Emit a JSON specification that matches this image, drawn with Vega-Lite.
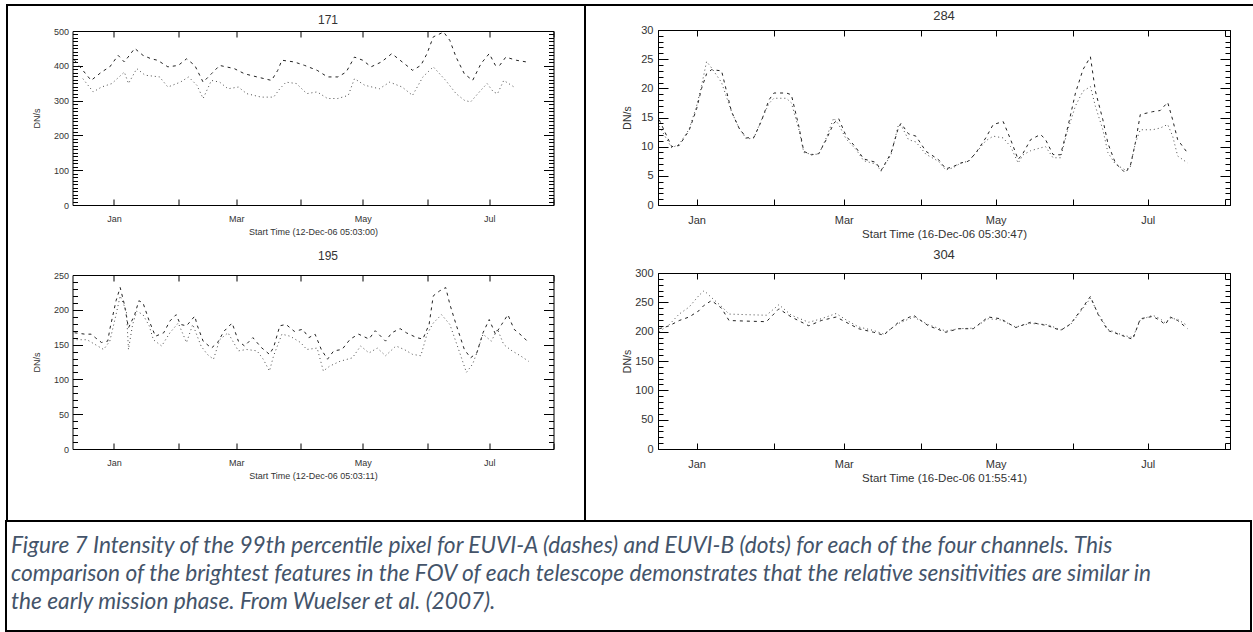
{
  "$schema": "https://vega.github.io/schema/vega-lite/v6.json",
  "padding": {"left": 5, "top": 4, "right": 0, "bottom": 0},
  "spacing": 0,
  "background": "white",
  "config": {
    "view": {"stroke": "#000", "strokeWidth": 1},
    "axis": {"grid": false, "domain": false, "tickColor": "#000", "tickWidth": 1, "labelColor": "#333", "titleColor": "#333", "labelFont": "Liberation Sans", "titleFont": "Liberation Sans", "titleFontWeight": "normal", "labelOverlap": false, "labelFlush": false},
    "title": {"font": "Liberation Sans", "fontWeight": "normal", "color": "#333", "anchor": "middle", "frame": "group"},
    "line": {"strokeWidth": 1}
  },
  "datasets": {
    "d171": [
      {"s":"A","date":"2006-12-13","v":416},{"s":"A","date":"2006-12-17","v":387},{"s":"A","date":"2006-12-21","v":358},{"s":"A","date":"2006-12-26","v":382},{"s":"A","date":"2006-12-30","v":397},{"s":"A","date":"2007-01-03","v":430},{"s":"A","date":"2007-01-06","v":411},{"s":"A","date":"2007-01-11","v":450},{"s":"A","date":"2007-01-15","v":430},{"s":"A","date":"2007-01-19","v":420},{"s":"A","date":"2007-01-22","v":416},{"s":"A","date":"2007-01-27","v":397},{"s":"A","date":"2007-02-01","v":401},{"s":"A","date":"2007-02-05","v":420},{"s":"A","date":"2007-02-09","v":401},{"s":"A","date":"2007-02-13","v":353},{"s":"A","date":"2007-02-17","v":377},{"s":"A","date":"2007-02-21","v":401},{"s":"A","date":"2007-02-28","v":392},{"s":"A","date":"2007-03-05","v":377},{"s":"A","date":"2007-03-11","v":368},{"s":"A","date":"2007-03-18","v":358},{"s":"A","date":"2007-03-21","v":387},{"s":"A","date":"2007-03-23","v":416},{"s":"A","date":"2007-03-29","v":411},{"s":"A","date":"2007-04-03","v":401},{"s":"A","date":"2007-04-09","v":387},{"s":"A","date":"2007-04-14","v":368},{"s":"A","date":"2007-04-19","v":368},{"s":"A","date":"2007-04-23","v":382},{"s":"A","date":"2007-04-27","v":425},{"s":"A","date":"2007-05-01","v":416},{"s":"A","date":"2007-05-05","v":397},{"s":"A","date":"2007-05-10","v":411},{"s":"A","date":"2007-05-15","v":435},{"s":"A","date":"2007-05-19","v":416},{"s":"A","date":"2007-05-23","v":397},{"s":"A","date":"2007-05-25","v":387},{"s":"A","date":"2007-05-29","v":401},{"s":"A","date":"2007-06-01","v":435},{"s":"A","date":"2007-06-04","v":483},{"s":"A","date":"2007-06-09","v":497},{"s":"A","date":"2007-06-12","v":473},{"s":"A","date":"2007-06-15","v":425},{"s":"A","date":"2007-06-19","v":377},{"s":"A","date":"2007-06-23","v":358},{"s":"A","date":"2007-06-27","v":406},{"s":"A","date":"2007-07-01","v":435},{"s":"A","date":"2007-07-04","v":401},{"s":"A","date":"2007-07-06","v":401},{"s":"A","date":"2007-07-09","v":425},{"s":"A","date":"2007-07-14","v":416},{"s":"A","date":"2007-07-19","v":411},
      {"s":"B","date":"2006-12-17","v":363},{"s":"B","date":"2006-12-22","v":325},{"s":"B","date":"2006-12-26","v":339},{"s":"B","date":"2006-12-31","v":349},{"s":"B","date":"2007-01-06","v":382},{"s":"B","date":"2007-01-08","v":349},{"s":"B","date":"2007-01-12","v":392},{"s":"B","date":"2007-01-16","v":373},{"s":"B","date":"2007-01-23","v":368},{"s":"B","date":"2007-01-27","v":339},{"s":"B","date":"2007-02-02","v":353},{"s":"B","date":"2007-02-06","v":368},{"s":"B","date":"2007-02-10","v":344},{"s":"B","date":"2007-02-13","v":306},{"s":"B","date":"2007-02-17","v":358},{"s":"B","date":"2007-02-21","v":353},{"s":"B","date":"2007-02-25","v":334},{"s":"B","date":"2007-03-02","v":339},{"s":"B","date":"2007-03-06","v":320},{"s":"B","date":"2007-03-13","v":310},{"s":"B","date":"2007-03-19","v":310},{"s":"B","date":"2007-03-22","v":334},{"s":"B","date":"2007-03-25","v":353},{"s":"B","date":"2007-03-30","v":349},{"s":"B","date":"2007-04-04","v":320},{"s":"B","date":"2007-04-09","v":325},{"s":"B","date":"2007-04-14","v":306},{"s":"B","date":"2007-04-19","v":306},{"s":"B","date":"2007-04-24","v":315},{"s":"B","date":"2007-04-27","v":363},{"s":"B","date":"2007-05-02","v":344},{"s":"B","date":"2007-05-09","v":334},{"s":"B","date":"2007-05-14","v":353},{"s":"B","date":"2007-05-20","v":339},{"s":"B","date":"2007-05-25","v":315},{"s":"B","date":"2007-05-30","v":368},{"s":"B","date":"2007-06-04","v":397},{"s":"B","date":"2007-06-10","v":358},{"s":"B","date":"2007-06-15","v":320},{"s":"B","date":"2007-06-19","v":301},{"s":"B","date":"2007-06-22","v":296},{"s":"B","date":"2007-06-27","v":330},{"s":"B","date":"2007-06-30","v":349},{"s":"B","date":"2007-07-03","v":325},{"s":"B","date":"2007-07-05","v":320},{"s":"B","date":"2007-07-08","v":358},{"s":"B","date":"2007-07-13","v":339}
    ],
    "d195": [
      {"s":"A","date":"2006-12-13","v":167},{"s":"A","date":"2006-12-18","v":165},{"s":"A","date":"2006-12-21","v":165},{"s":"A","date":"2006-12-23","v":160},{"s":"A","date":"2006-12-26","v":153},{"s":"A","date":"2006-12-29","v":155},{"s":"A","date":"2006-12-30","v":172},{"s":"A","date":"2007-01-02","v":213},{"s":"A","date":"2007-01-04","v":232},{"s":"A","date":"2007-01-06","v":208},{"s":"A","date":"2007-01-08","v":174},{"s":"A","date":"2007-01-11","v":193},{"s":"A","date":"2007-01-13","v":213},{"s":"A","date":"2007-01-15","v":210},{"s":"A","date":"2007-01-18","v":184},{"s":"A","date":"2007-01-21","v":162},{"s":"A","date":"2007-01-25","v":167},{"s":"A","date":"2007-01-28","v":184},{"s":"A","date":"2007-01-31","v":193},{"s":"A","date":"2007-02-02","v":179},{"s":"A","date":"2007-02-05","v":177},{"s":"A","date":"2007-02-09","v":191},{"s":"A","date":"2007-02-10","v":179},{"s":"A","date":"2007-02-13","v":155},{"s":"A","date":"2007-02-17","v":145},{"s":"A","date":"2007-02-20","v":153},{"s":"A","date":"2007-02-23","v":169},{"s":"A","date":"2007-02-27","v":181},{"s":"A","date":"2007-03-02","v":155},{"s":"A","date":"2007-03-05","v":148},{"s":"A","date":"2007-03-09","v":160},{"s":"A","date":"2007-03-13","v":146},{"s":"A","date":"2007-03-17","v":136},{"s":"A","date":"2007-03-19","v":146},{"s":"A","date":"2007-03-22","v":177},{"s":"A","date":"2007-03-25","v":179},{"s":"A","date":"2007-03-29","v":169},{"s":"A","date":"2007-04-02","v":172},{"s":"A","date":"2007-04-05","v":160},{"s":"A","date":"2007-04-08","v":165},{"s":"A","date":"2007-04-11","v":143},{"s":"A","date":"2007-04-14","v":129},{"s":"A","date":"2007-04-17","v":141},{"s":"A","date":"2007-04-21","v":143},{"s":"A","date":"2007-04-25","v":158},{"s":"A","date":"2007-04-29","v":165},{"s":"A","date":"2007-05-04","v":158},{"s":"A","date":"2007-05-07","v":170},{"s":"A","date":"2007-05-12","v":155},{"s":"A","date":"2007-05-15","v":167},{"s":"A","date":"2007-05-19","v":173},{"s":"A","date":"2007-05-22","v":167},{"s":"A","date":"2007-05-27","v":160},{"s":"A","date":"2007-05-30","v":158},{"s":"A","date":"2007-06-02","v":179},{"s":"A","date":"2007-06-04","v":220},{"s":"A","date":"2007-06-07","v":227},{"s":"A","date":"2007-06-10","v":232},{"s":"A","date":"2007-06-12","v":208},{"s":"A","date":"2007-06-15","v":179},{"s":"A","date":"2007-06-19","v":143},{"s":"A","date":"2007-06-22","v":131},{"s":"A","date":"2007-06-25","v":138},{"s":"A","date":"2007-06-28","v":167},{"s":"A","date":"2007-07-01","v":186},{"s":"A","date":"2007-07-04","v":165},{"s":"A","date":"2007-07-07","v":179},{"s":"A","date":"2007-07-10","v":193},{"s":"A","date":"2007-07-13","v":172},{"s":"A","date":"2007-07-17","v":162},{"s":"A","date":"2007-07-20","v":153},
      {"s":"B","date":"2006-12-14","v":157},{"s":"B","date":"2006-12-19","v":157},{"s":"B","date":"2006-12-23","v":150},{"s":"B","date":"2006-12-27","v":143},{"s":"B","date":"2006-12-30","v":155},{"s":"B","date":"2007-01-02","v":193},{"s":"B","date":"2007-01-04","v":220},{"s":"B","date":"2007-01-07","v":198},{"s":"B","date":"2007-01-08","v":143},{"s":"B","date":"2007-01-10","v":179},{"s":"B","date":"2007-01-12","v":198},{"s":"B","date":"2007-01-15","v":193},{"s":"B","date":"2007-01-18","v":177},{"s":"B","date":"2007-01-20","v":157},{"s":"B","date":"2007-01-24","v":148},{"s":"B","date":"2007-01-28","v":167},{"s":"B","date":"2007-02-01","v":181},{"s":"B","date":"2007-02-05","v":153},{"s":"B","date":"2007-02-08","v":179},{"s":"B","date":"2007-02-12","v":148},{"s":"B","date":"2007-02-15","v":136},{"s":"B","date":"2007-02-18","v":129},{"s":"B","date":"2007-02-21","v":157},{"s":"B","date":"2007-02-25","v":167},{"s":"B","date":"2007-03-02","v":141},{"s":"B","date":"2007-03-06","v":143},{"s":"B","date":"2007-03-11","v":141},{"s":"B","date":"2007-03-14","v":129},{"s":"B","date":"2007-03-17","v":112},{"s":"B","date":"2007-03-19","v":134},{"s":"B","date":"2007-03-23","v":165},{"s":"B","date":"2007-03-27","v":162},{"s":"B","date":"2007-04-01","v":153},{"s":"B","date":"2007-04-04","v":143},{"s":"B","date":"2007-04-09","v":145},{"s":"B","date":"2007-04-12","v":112},{"s":"B","date":"2007-04-15","v":119},{"s":"B","date":"2007-04-20","v":126},{"s":"B","date":"2007-04-26","v":131},{"s":"B","date":"2007-04-30","v":148},{"s":"B","date":"2007-05-04","v":138},{"s":"B","date":"2007-05-08","v":145},{"s":"B","date":"2007-05-12","v":134},{"s":"B","date":"2007-05-17","v":148},{"s":"B","date":"2007-05-21","v":143},{"s":"B","date":"2007-05-25","v":136},{"s":"B","date":"2007-05-29","v":134},{"s":"B","date":"2007-06-01","v":165},{"s":"B","date":"2007-06-04","v":181},{"s":"B","date":"2007-06-08","v":193},{"s":"B","date":"2007-06-12","v":179},{"s":"B","date":"2007-06-16","v":145},{"s":"B","date":"2007-06-20","v":110},{"s":"B","date":"2007-06-23","v":122},{"s":"B","date":"2007-06-25","v":138},{"s":"B","date":"2007-06-28","v":165},{"s":"B","date":"2007-07-02","v":155},{"s":"B","date":"2007-07-05","v":172},{"s":"B","date":"2007-07-08","v":150},{"s":"B","date":"2007-07-12","v":141},{"s":"B","date":"2007-07-16","v":134},{"s":"B","date":"2007-07-20","v":126}
    ],
    "d284": [
      {"date":"2006-12-17","A":14.6,"B":13.5},{"date":"2006-12-22","A":10,"B":9.8},{"date":"2006-12-25","A":10.2,"B":10.4},{"date":"2006-12-29","A":12.8,"B":13},{"date":"2007-01-01","A":16.5,"B":17},{"date":"2007-01-03","A":20,"B":20.5},{"date":"2007-01-05","A":22.5,"B":24.6},{"date":"2007-01-07","A":23.2,"B":23.5},{"date":"2007-01-11","A":23,"B":21},{"date":"2007-01-15","A":16,"B":16},{"date":"2007-01-18","A":13.2,"B":13.2},{"date":"2007-01-21","A":11.5,"B":11.3},{"date":"2007-01-24","A":11.6,"B":11.5},{"date":"2007-01-27","A":14.4,"B":14.6},{"date":"2007-01-30","A":18,"B":17.4},{"date":"2007-02-01","A":19.2,"B":18.3},{"date":"2007-02-06","A":19.2,"B":18.3},{"date":"2007-02-08","A":18.9,"B":17.5},{"date":"2007-02-11","A":13.5,"B":13},{"date":"2007-02-13","A":9.2,"B":9},{"date":"2007-02-16","A":8.6,"B":8.7},{"date":"2007-02-19","A":8.8,"B":8.7},{"date":"2007-02-22","A":11.2,"B":11.5},{"date":"2007-02-25","A":14,"B":14.9},{"date":"2007-02-27","A":14.8,"B":13.8},{"date":"2007-03-02","A":11.8,"B":11.3},{"date":"2007-03-06","A":9.8,"B":9.5},{"date":"2007-03-09","A":7.9,"B":7.6},{"date":"2007-03-14","A":7.3,"B":7},{"date":"2007-03-16","A":5.9,"B":5.8},{"date":"2007-03-20","A":8.9,"B":8.6},{"date":"2007-03-23","A":13.3,"B":13.8},{"date":"2007-03-24","A":14,"B":13.7},{"date":"2007-03-27","A":12.2,"B":11.2},{"date":"2007-03-30","A":11.8,"B":10.8},{"date":"2007-04-03","A":9.2,"B":8.7},{"date":"2007-04-08","A":7.8,"B":7.5},{"date":"2007-04-11","A":6.2,"B":6},{"date":"2007-04-14","A":6.6,"B":6.4},{"date":"2007-04-17","A":7.2,"B":7.2},{"date":"2007-04-20","A":7.5,"B":7.5},{"date":"2007-04-23","A":8.9,"B":8.9},{"date":"2007-04-27","A":11.5,"B":11},{"date":"2007-04-30","A":13.8,"B":11.8},{"date":"2007-05-04","A":14.3,"B":11.5},{"date":"2007-05-07","A":11.2,"B":10},{"date":"2007-05-10","A":7.8,"B":7.2},{"date":"2007-05-12","A":8.9,"B":8.6},{"date":"2007-05-15","A":11.2,"B":9.3},{"date":"2007-05-19","A":12.1,"B":9.8},{"date":"2007-05-21","A":11.2,"B":10},{"date":"2007-05-24","A":8.65,"B":8.1},{"date":"2007-05-27","A":8.6,"B":8.1},{"date":"2007-05-30","A":13.5,"B":13},{"date":"2007-06-02","A":19.2,"B":17},{"date":"2007-06-05","A":23.2,"B":19.5},{"date":"2007-06-08","A":25.4,"B":20.3},{"date":"2007-06-10","A":19.5,"B":16.9},{"date":"2007-06-13","A":14.6,"B":12.9},{"date":"2007-06-15","A":10.6,"B":9},{"date":"2007-06-18","A":7.2,"B":7},{"date":"2007-06-22","A":5.5,"B":6},{"date":"2007-06-24","A":6.7,"B":6.5},{"date":"2007-06-26","A":10.6,"B":10.6},{"date":"2007-06-28","A":15.5,"B":12.9},{"date":"2007-07-03","A":16,"B":12.9},{"date":"2007-07-06","A":16.2,"B":13.2},{"date":"2007-07-09","A":17.6,"B":13.8},{"date":"2007-07-11","A":14.6,"B":11.8},{"date":"2007-07-13","A":11.2,"B":8.4},{"date":"2007-07-17","A":8.9,"B":7.2}
    ],
    "d304": [
      {"date":"2006-12-17","A":205,"B":200},{"date":"2006-12-21","A":210,"B":212},{"date":"2006-12-25","A":219,"B":230},{"date":"2006-12-29","A":225,"B":242},{"date":"2007-01-02","A":236,"B":262},{"date":"2007-01-04","A":245,"B":270},{"date":"2007-01-07","A":253,"B":258},{"date":"2007-01-11","A":240,"B":243},{"date":"2007-01-14","A":219,"B":230},{"date":"2007-01-21","A":218,"B":229},{"date":"2007-01-29","A":217,"B":228},{"date":"2007-02-03","A":239,"B":246},{"date":"2007-02-08","A":225,"B":228},{"date":"2007-02-15","A":210,"B":216},{"date":"2007-02-20","A":219,"B":222},{"date":"2007-02-26","A":225,"B":231},{"date":"2007-03-02","A":216,"B":220},{"date":"2007-03-07","A":205,"B":208},{"date":"2007-03-13","A":199,"B":202},{"date":"2007-03-17","A":194,"B":196},{"date":"2007-03-23","A":216,"B":214},{"date":"2007-03-29","A":228,"B":225},{"date":"2007-04-04","A":210,"B":212},{"date":"2007-04-11","A":199,"B":201},{"date":"2007-04-16","A":205,"B":205},{"date":"2007-04-22","A":205,"B":206},{"date":"2007-04-28","A":225,"B":222},{"date":"2007-05-03","A":222,"B":220},{"date":"2007-05-09","A":207,"B":208},{"date":"2007-05-15","A":216,"B":214},{"date":"2007-05-22","A":210,"B":212},{"date":"2007-05-27","A":202,"B":203},{"date":"2007-05-31","A":213,"B":212},{"date":"2007-06-04","A":236,"B":234},{"date":"2007-06-08","A":260,"B":257},{"date":"2007-06-11","A":230,"B":232},{"date":"2007-06-15","A":202,"B":204},{"date":"2007-06-21","A":193,"B":194},{"date":"2007-06-25","A":187,"B":190},{"date":"2007-06-28","A":222,"B":220},{"date":"2007-07-03","A":226,"B":228},{"date":"2007-07-06","A":219,"B":222},{"date":"2007-07-08","A":212,"B":215},{"date":"2007-07-10","A":225,"B":223},{"date":"2007-07-13","A":219,"B":221},{"date":"2007-07-17","A":205,"B":210}
    ],
    "caption": [
      {"line": 1, "pos": 0, "text": "Figure 7 Intensity of the 99th percentile pixel for EUVI-A (dashes) and EUVI-B (dots) for each of the four channels. This"},
      {"line": 2, "pos": 0, "text": "comparison of the brightest features in the FOV of each telescope demonstrates that the relative sensitivities are similar in"},
      {"line": 3, "pos": 0, "text": "the early mission phase. From Wuelser et al. (2007)."}
    ]
  },
  "vconcat": [
    {"width": 1248, "height": 2, "data": {"values": [{}]}, "mark": {"type": "rect", "opacity": 0}, "encoding": {}, "view": {"fill": "#000", "stroke": null}},
    {
      "align": "none",
      "spacing": 29,
      "concat": [
        {
          "align": "none",
          "spacing": 23.5,
          "concat": [
            {"width": 2, "height": 514, "data": {"values": [{}]}, "mark": {"type": "rect", "opacity": 0}, "encoding": {}, "view": {"fill": "#000", "stroke": null}},
            {
              "spacing": 6,
              "vconcat": [
                {"width": 1, "height": 1, "data": {"values": [{}]}, "mark": {"type": "rect", "opacity": 0}, "encoding": {}, "view": {"stroke": null}},
                {
                  "spacing": 12,
                  "vconcat": [
                    {
                      "width": 481, "height": 174,
                      "title": {"text": "171", "offset": 0, "fontSize": 12, "dx": 15},
                      "data": {"name": "d171"},
                      "layer": [
                        {"mark": {"type": "line"},
                         "encoding": {
                           "x": {"field": "date", "type": "temporal", "scale": {"type": "utc", "domain": [{"year": 2006, "month": 12, "date": 12, "utc": true}, {"year": 2007, "month": 8, "date": 1, "utc": true}], "nice": false},
                                 "axis": {"orient": "bottom", "title": "Start Time (12-Dec-06 05:03:00)", "tickCount": {"interval": "month", "step": 1}, "tickSize": -6, "labelPadding": 15, "labelExpr": "utcmonth(datum.value) % 2 == 0 ? utcFormat(datum.value, '%b') : ''", "labelFontSize": 9, "titleFontSize": 9, "titlePadding": 4}},
                           "y": {"field": "v", "type": "quantitative", "scale": {"domain": [0, 500], "nice": false},
                                 "axis": {"orient": "left", "title": "DN/s", "values": [0, 100, 200, 300, 400, 500], "tickSize": -10, "labelPadding": 14, "labelFontSize": 9, "titleFontSize": 9, "titlePadding": 7, "minExtent": 24, "maxExtent": 24}},
                           "strokeDash": {"field": "s", "type": "nominal", "scale": {"domain": ["A", "B"], "range": [[3, 4], [1, 3]]}, "legend": null},
                           "color": {"field": "s", "type": "nominal", "scale": {"domain": ["A", "B"], "range": ["#222222", "#4a4a4a"]}, "legend": null}
                         }},
                        {"mark": {"type": "line", "opacity": 0},
                         "encoding": {
                           "x": {"field": "date", "type": "temporal", "scale": {"type": "utc", "domain": [{"year": 2006, "month": 12, "date": 12, "utc": true}, {"year": 2007, "month": 8, "date": 1, "utc": true}], "nice": false},
                                 "axis": {"orient": "top", "title": null, "labels": false, "tickCount": {"interval": "month", "step": 1}, "tickSize": -6, "minExtent": 0, "maxExtent": 0}},
                           "y": {"field": "v", "type": "quantitative", "scale": {"domain": [0, 500], "nice": false},
                                 "axis": {"orient": "right", "title": null, "labels": false, "values": [0, 100, 200, 300, 400, 500], "tickSize": -10, "minExtent": 0, "maxExtent": 0}}
                         }},
                        {"mark": {"type": "line", "opacity": 0},
                         "encoding": {
                           "x": {"field": "date", "type": "temporal", "scale": {"type": "utc", "domain": [{"year": 2006, "month": 12, "date": 12, "utc": true}, {"year": 2007, "month": 8, "date": 1, "utc": true}], "nice": false}, "axis": null},
                           "y": {"field": "v", "type": "quantitative", "scale": {"domain": [0, 500], "nice": false},
                                 "axis": {"orient": "left", "title": null, "labels": false, "tickCount": 50, "tickSize": -5, "minExtent": 0, "maxExtent": 0}}
                         }},
                        {"mark": {"type": "line", "opacity": 0},
                         "encoding": {
                           "x": {"field": "date", "type": "temporal", "scale": {"type": "utc", "domain": [{"year": 2006, "month": 12, "date": 12, "utc": true}, {"year": 2007, "month": 8, "date": 1, "utc": true}], "nice": false}, "axis": null},
                           "y": {"field": "v", "type": "quantitative", "scale": {"domain": [0, 500], "nice": false},
                                 "axis": {"orient": "right", "title": null, "labels": false, "tickCount": 50, "tickSize": -5, "minExtent": 0, "maxExtent": 0}}
                         }}
                      ],
                      "resolve": {"axis": {"x": "independent", "y": "independent"}}
                    },
                    {
                      "width": 481, "height": 174,
                      "title": {"text": "195", "offset": 8, "fontSize": 12, "dx": 15},
                      "data": {"name": "d195"},
                      "layer": [
                        {"mark": {"type": "line"},
                         "encoding": {
                           "x": {"field": "date", "type": "temporal", "scale": {"type": "utc", "domain": [{"year": 2006, "month": 12, "date": 12, "utc": true}, {"year": 2007, "month": 8, "date": 1, "utc": true}], "nice": false},
                                 "axis": {"orient": "bottom", "title": "Start Time (12-Dec-06 05:03:11)", "tickCount": {"interval": "month", "step": 1}, "tickSize": -6, "labelPadding": 15, "labelExpr": "utcmonth(datum.value) % 2 == 0 ? utcFormat(datum.value, '%b') : ''", "labelFontSize": 9, "titleFontSize": 9, "titlePadding": 4}},
                           "y": {"field": "v", "type": "quantitative", "scale": {"domain": [0, 250], "nice": false},
                                 "axis": {"orient": "left", "title": "DN/s", "values": [0, 50, 100, 150, 200, 250], "tickSize": -10, "labelPadding": 14, "labelFontSize": 9, "titleFontSize": 9, "titlePadding": 7, "minExtent": 24, "maxExtent": 24}},
                           "strokeDash": {"field": "s", "type": "nominal", "scale": {"domain": ["A", "B"], "range": [[3, 4], [1, 3]]}, "legend": null},
                           "color": {"field": "s", "type": "nominal", "scale": {"domain": ["A", "B"], "range": ["#222222", "#4a4a4a"]}, "legend": null}
                         }},
                        {"mark": {"type": "line", "opacity": 0},
                         "encoding": {
                           "x": {"field": "date", "type": "temporal", "scale": {"type": "utc", "domain": [{"year": 2006, "month": 12, "date": 12, "utc": true}, {"year": 2007, "month": 8, "date": 1, "utc": true}], "nice": false},
                                 "axis": {"orient": "top", "title": null, "labels": false, "tickCount": {"interval": "month", "step": 1}, "tickSize": -6, "minExtent": 0, "maxExtent": 0}},
                           "y": {"field": "v", "type": "quantitative", "scale": {"domain": [0, 250], "nice": false},
                                 "axis": {"orient": "right", "title": null, "labels": false, "values": [0, 50, 100, 150, 200, 250], "tickSize": -10, "minExtent": 0, "maxExtent": 0}}
                         }},
                        {"mark": {"type": "line", "opacity": 0},
                         "encoding": {
                           "x": {"field": "date", "type": "temporal", "scale": {"type": "utc", "domain": [{"year": 2006, "month": 12, "date": 12, "utc": true}, {"year": 2007, "month": 8, "date": 1, "utc": true}], "nice": false}, "axis": null},
                           "y": {"field": "v", "type": "quantitative", "scale": {"domain": [0, 250], "nice": false},
                                 "axis": {"orient": "left", "title": null, "labels": false, "tickCount": 25, "tickSize": -5, "minExtent": 0, "maxExtent": 0}}
                         }},
                        {"mark": {"type": "line", "opacity": 0},
                         "encoding": {
                           "x": {"field": "date", "type": "temporal", "scale": {"type": "utc", "domain": [{"year": 2006, "month": 12, "date": 12, "utc": true}, {"year": 2007, "month": 8, "date": 1, "utc": true}], "nice": false}, "axis": null},
                           "y": {"field": "v", "type": "quantitative", "scale": {"domain": [0, 250], "nice": false},
                                 "axis": {"orient": "right", "title": null, "labels": false, "tickCount": 25, "tickSize": -5, "minExtent": 0, "maxExtent": 0}}
                         }}
                      ],
                      "resolve": {"axis": {"x": "independent", "y": "independent"}}
                    }
                  ]
                }
              ]
            }
          ]
        },
        {
          "align": "none",
          "spacing": 35,
          "concat": [
            {"width": 2, "height": 514, "data": {"values": [{}]}, "mark": {"type": "rect", "opacity": 0}, "encoding": {}, "view": {"fill": "#000", "stroke": null}},
            {
              "spacing": 2,
              "vconcat": [
                {"width": 1, "height": 1, "data": {"values": [{}]}, "mark": {"type": "rect", "opacity": 0}, "encoding": {}, "view": {"stroke": null}},
                {
                  "spacing": 8,
                  "vconcat": [
                    {
                      "width": 572, "height": 175,
                      "title": {"text": "284", "offset": 1, "fontSize": 13},
                      "data": {"name": "d284"},
                      "transform": [{"fold": ["A", "B"], "as": ["s", "v"]}],
                      "layer": [
                        {"mark": {"type": "line"},
                         "encoding": {
                           "x": {"field": "date", "type": "temporal", "scale": {"type": "utc", "domain": [{"year": 2006, "month": 12, "date": 16, "hours": 12, "utc": true}, {"year": 2007, "month": 8, "date": 3, "utc": true}], "nice": false},
                                 "axis": {"orient": "bottom", "title": "Start Time (16-Dec-06 05:30:47)", "tickCount": {"interval": "month", "step": 1}, "tickSize": -6, "labelPadding": 15, "labelExpr": "utcmonth(datum.value) % 2 == 0 ? utcFormat(datum.value, '%b') : ''", "labelFontSize": 11, "titleFontSize": 11.5, "titlePadding": 3}},
                           "y": {"field": "v", "type": "quantitative", "scale": {"domain": [0, 30], "nice": false},
                                 "axis": {"orient": "left", "title": "DN/s", "values": [0, 5, 10, 15, 20, 25, 30], "tickSize": -10, "labelPadding": 15, "labelFontSize": 11, "titleFontSize": 10.5, "titlePadding": 6, "minExtent": 20, "maxExtent": 20}},
                           "strokeDash": {"field": "s", "type": "nominal", "scale": {"domain": ["A", "B"], "range": [[6, 5], [1, 3]]}, "legend": null},
                           "color": {"field": "s", "type": "nominal", "scale": {"domain": ["A", "B"], "range": ["#222222", "#4a4a4a"]}, "legend": null}
                         }},
                        {"mark": {"type": "line", "opacity": 0},
                         "encoding": {
                           "x": {"field": "date", "type": "temporal", "scale": {"type": "utc", "domain": [{"year": 2006, "month": 12, "date": 16, "hours": 12, "utc": true}, {"year": 2007, "month": 8, "date": 3, "utc": true}], "nice": false},
                                 "axis": {"orient": "top", "title": null, "labels": false, "tickCount": {"interval": "month", "step": 1}, "tickSize": -6, "minExtent": 0, "maxExtent": 0}},
                           "y": {"field": "v", "type": "quantitative", "scale": {"domain": [0, 30], "nice": false},
                                 "axis": {"orient": "right", "title": null, "labels": false, "values": [0, 5, 10, 15, 20, 25, 30], "tickSize": -10, "minExtent": 0, "maxExtent": 0}}
                         }},
                        {"mark": {"type": "line", "opacity": 0},
                         "encoding": {
                           "x": {"field": "date", "type": "temporal", "scale": {"type": "utc", "domain": [{"year": 2006, "month": 12, "date": 16, "hours": 12, "utc": true}, {"year": 2007, "month": 8, "date": 3, "utc": true}], "nice": false}, "axis": null},
                           "y": {"field": "v", "type": "quantitative", "scale": {"domain": [0, 30], "nice": false},
                                 "axis": {"orient": "left", "title": null, "labels": false, "tickCount": 30, "tickSize": -5, "minExtent": 0, "maxExtent": 0}}
                         }},
                        {"mark": {"type": "line", "opacity": 0},
                         "encoding": {
                           "x": {"field": "date", "type": "temporal", "scale": {"type": "utc", "domain": [{"year": 2006, "month": 12, "date": 16, "hours": 12, "utc": true}, {"year": 2007, "month": 8, "date": 3, "utc": true}], "nice": false}, "axis": null},
                           "y": {"field": "v", "type": "quantitative", "scale": {"domain": [0, 30], "nice": false},
                                 "axis": {"orient": "right", "title": null, "labels": false, "tickCount": 30, "tickSize": -5, "minExtent": 0, "maxExtent": 0}}
                         }}
                      ],
                      "resolve": {"axis": {"x": "independent", "y": "independent"}}
                    },
                    {
                      "width": 572, "height": 176,
                      "title": {"text": "304", "offset": 5, "fontSize": 13},
                      "data": {"name": "d304"},
                      "transform": [{"fold": ["A", "B"], "as": ["s", "v"]}],
                      "layer": [
                        {"mark": {"type": "line"},
                         "encoding": {
                           "x": {"field": "date", "type": "temporal", "scale": {"type": "utc", "domain": [{"year": 2006, "month": 12, "date": 16, "hours": 12, "utc": true}, {"year": 2007, "month": 8, "date": 3, "utc": true}], "nice": false},
                                 "axis": {"orient": "bottom", "title": "Start Time (16-Dec-06 01:55:41)", "tickCount": {"interval": "month", "step": 1}, "tickSize": -6, "labelPadding": 15, "labelExpr": "utcmonth(datum.value) % 2 == 0 ? utcFormat(datum.value, '%b') : ''", "labelFontSize": 11, "titleFontSize": 11.5, "titlePadding": 3}},
                           "y": {"field": "v", "type": "quantitative", "scale": {"domain": [0, 300], "nice": false},
                                 "axis": {"orient": "left", "title": "DN/s", "values": [0, 50, 100, 150, 200, 250, 300], "tickSize": -10, "labelPadding": 15, "labelFontSize": 11, "titleFontSize": 10.5, "titlePadding": 6, "minExtent": 20, "maxExtent": 20}},
                           "strokeDash": {"field": "s", "type": "nominal", "scale": {"domain": ["A", "B"], "range": [[6, 5], [1, 3]]}, "legend": null},
                           "color": {"field": "s", "type": "nominal", "scale": {"domain": ["A", "B"], "range": ["#222222", "#4a4a4a"]}, "legend": null}
                         }},
                        {"mark": {"type": "line", "opacity": 0},
                         "encoding": {
                           "x": {"field": "date", "type": "temporal", "scale": {"type": "utc", "domain": [{"year": 2006, "month": 12, "date": 16, "hours": 12, "utc": true}, {"year": 2007, "month": 8, "date": 3, "utc": true}], "nice": false},
                                 "axis": {"orient": "top", "title": null, "labels": false, "tickCount": {"interval": "month", "step": 1}, "tickSize": -6, "minExtent": 0, "maxExtent": 0}},
                           "y": {"field": "v", "type": "quantitative", "scale": {"domain": [0, 300], "nice": false},
                                 "axis": {"orient": "right", "title": null, "labels": false, "values": [0, 50, 100, 150, 200, 250, 300], "tickSize": -10, "minExtent": 0, "maxExtent": 0}}
                         }},
                        {"mark": {"type": "line", "opacity": 0},
                         "encoding": {
                           "x": {"field": "date", "type": "temporal", "scale": {"type": "utc", "domain": [{"year": 2006, "month": 12, "date": 16, "hours": 12, "utc": true}, {"year": 2007, "month": 8, "date": 3, "utc": true}], "nice": false}, "axis": null},
                           "y": {"field": "v", "type": "quantitative", "scale": {"domain": [0, 300], "nice": false},
                                 "axis": {"orient": "left", "title": null, "labels": false, "tickCount": 30, "tickSize": -5, "minExtent": 0, "maxExtent": 0}}
                         }},
                        {"mark": {"type": "line", "opacity": 0},
                         "encoding": {
                           "x": {"field": "date", "type": "temporal", "scale": {"type": "utc", "domain": [{"year": 2006, "month": 12, "date": 16, "hours": 12, "utc": true}, {"year": 2007, "month": 8, "date": 3, "utc": true}], "nice": false}, "axis": null},
                           "y": {"field": "v", "type": "quantitative", "scale": {"domain": [0, 300], "nice": false},
                                 "axis": {"orient": "right", "title": null, "labels": false, "tickCount": 30, "tickSize": -5, "minExtent": 0, "maxExtent": 0}}
                         }}
                      ],
                      "resolve": {"axis": {"x": "independent", "y": "independent"}}
                    }
                  ]
                }
              ]
            }
          ]
        }
      ]
    },
    {
      "width": 1245, "height": 110,
      "data": {"name": "caption"},
      "mark": {"type": "text", "align": "left", "baseline": "middle", "font": "Lato", "fontStyle": "italic", "fontSize": 22.7, "color": "#44546A"},
      "encoding": {
        "x": {"field": "pos", "type": "quantitative", "scale": {"domain": [-0.004, 1], "nice": false, "zero": false}, "axis": null},
        "y": {"field": "line", "type": "quantitative", "scale": {"domain": [0.123, 4.018], "nice": false, "zero": false, "reverse": true}, "axis": null},
        "text": {"field": "text"}
      },
      "view": {"stroke": "#000", "strokeWidth": 2}
    }
  ]
}
